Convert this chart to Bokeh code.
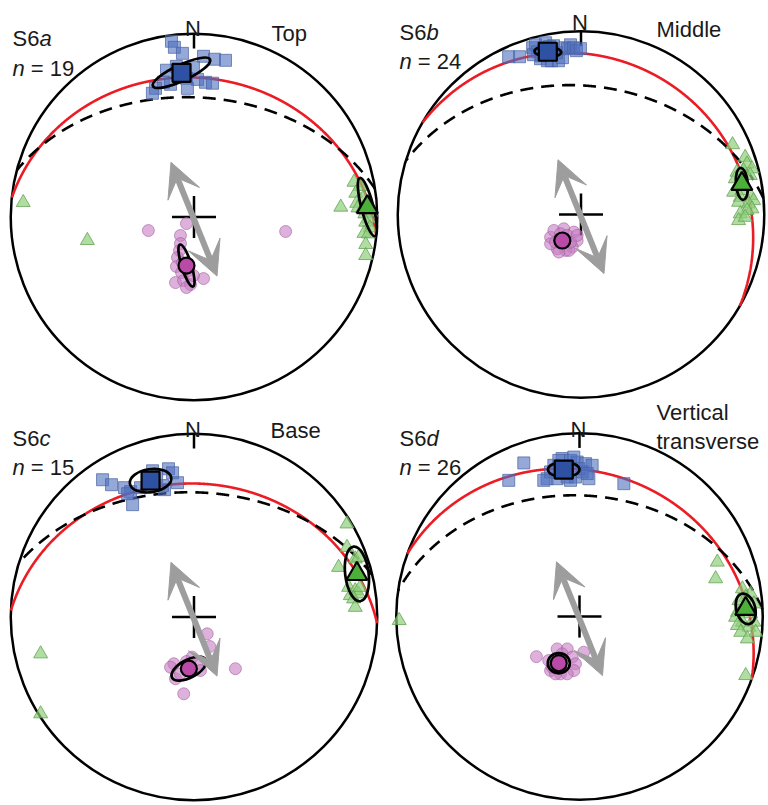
import numpy as np
from bokeh.plotting import figure
from bokeh.models import Range1d, Label, Arrow, VeeHead
from bokeh.embed import file_html
from bokeh.resources import INLINE

# ---------------------------------------------------------------------------
# Equal-area (lower hemisphere) nets, coordinates in units of the net radius
# (east, north).  Four samples: S6a..S6d.
# ---------------------------------------------------------------------------

PANEL_LETTER = ["a", "b", "c", "d"]
PANEL_N = [19, 24, 15, 26]
PANEL_POSITION = [["Top"], ["Middle"], ["Base"], ["Vertical", "transverse"]]

# k1 axes (squares)
A_SQ_E = [-0.123, -0.107, -0.063, 0.052, 0.112, 0.172, -0.150, -0.096, -0.003, -0.041,
          0.019, 0.063, 0.101, -0.036, -0.167, -0.210, -0.227, -0.128]
A_SQ_N = [0.959, 0.926, 0.893, 0.877, 0.861, 0.855, 0.801, 0.822, 0.817, 0.757,
          0.751, 0.735, 0.730, 0.702, 0.735, 0.702, 0.675, 0.724]
B_SQ_E = [-0.395, -0.335, -0.264, -0.248, -0.237, -0.221, -0.193, -0.183, -0.161, -0.123,
          -0.101, -0.090, -0.074, -0.057, -0.041, -0.025, -0.003, -0.259, -0.204, -0.150,
          -0.134, -0.215, -0.172]
B_SQ_N = [0.861, 0.861, 0.910, 0.926, 0.888, 0.850, 0.937, 0.839, 0.839, 0.839,
          0.856, 0.910, 0.905, 0.926, 0.910, 0.894, 0.905, 0.872, 0.910, 0.921,
          0.883, 0.866, 0.916]
C_SQ_E = [-0.499, -0.450, -0.379, -0.346, -0.335, -0.226, -0.139, -0.117, -0.090, -0.172,
          -0.161, -0.292, -0.362, -0.204]
C_SQ_N = [0.749, 0.722, 0.706, 0.684, 0.613, 0.798, 0.809, 0.787, 0.733, 0.717,
          0.695, 0.706, 0.673, 0.766]
D_SQ_E = [-0.304, -0.386, -0.140, -0.095, -0.049, -0.013, 0.033, 0.069, -0.177, -0.122,
          -0.067, -0.022, 0.051, 0.242, -0.158, 0.015, -0.086, -0.031, -0.113, -0.004,
          -0.195, 0.042, -0.049]
D_SQ_N = [0.838, 0.743, 0.825, 0.862, 0.852, 0.843, 0.834, 0.825, 0.752, 0.752,
          0.761, 0.761, 0.752, 0.725, 0.789, 0.789, 0.789, 0.870, 0.852, 0.807,
          0.743, 0.780, 0.743]

# k2 axes (triangles)
A_TRI_E = [0.873, 0.906, 0.883, 0.925, 0.888, 0.895, 0.919, 0.964, 0.932, 0.955,
           0.937, 0.961, 0.928, 0.952, 0.937, 0.937, 0.801, -0.932, -0.582]
A_TRI_N = [0.190, 0.167, 0.130, 0.108, 0.075, 0.050, 0.045, 0.026, 0.017, -0.010,
           -0.028, -0.059, -0.089, -0.092, -0.150, -0.210, 0.054, 0.079, -0.128]
B_TRI_E = [0.827, 0.896, 0.906, 0.933, 0.851, 0.887, 0.842, 0.924, 0.833, 0.878,
           0.869, 0.924, 0.942, 0.860, 0.914, 0.933, 0.906, 0.869, 0.860, 0.896]
B_TRI_N = [0.381, 0.312, 0.276, 0.249, 0.231, 0.240, 0.195, 0.213, 0.122, 0.131,
           0.094, 0.104, 0.076, 0.067, 0.058, 0.031, 0.022, 0.004, -0.033, -0.015]
C_TRI_E = [0.835, 0.789, 0.835, 0.880, 0.898, 0.844, 0.880, 0.898, 0.907, 0.853,
           0.871, 0.880, -0.837, -0.837]
C_TRI_N = [0.508, 0.271, 0.380, 0.317, 0.326, 0.162, 0.144, 0.126, 0.162, 0.117,
           0.099, 0.053, -0.201, -0.528]
D_TRI_E = [0.752, 0.743, 0.889, 0.934, 0.907, 0.870, 0.952, 0.862, 0.934, 0.852,
           0.889, 0.952, 0.862, 0.925, 0.880, 0.962, 0.916, 0.907, -0.984]
D_TRI_N = [0.297, 0.206, 0.151, 0.124, 0.105, 0.087, 0.069, 0.023, 0.015, -0.004,
           -0.031, -0.031, -0.049, -0.058, -0.086, -0.086, -0.122, -0.322, -0.022]

# k3 axes (circles)
A_CIR_E = [-0.249, -0.041, -0.074, -0.074, -0.079, -0.090, -0.096, -0.063, -0.068, -0.030,
           -0.101, -0.057, -0.019, 0.052, -0.041, -0.003, 0.500]
A_CIR_N = [-0.074, -0.036, -0.101, -0.145, -0.183, -0.221, -0.270, -0.249, -0.303, -0.292,
           -0.358, -0.347, -0.369, -0.336, -0.385, -0.320, -0.079]
B_CIR_E = [-0.166, -0.148, -0.094, -0.039, -0.021, -0.048, -0.084, -0.130, -0.166, -0.066,
           -0.112, -0.075, -0.139, -0.057, -0.021, -0.121]
B_CIR_N = [-0.124, -0.087, -0.078, -0.096, -0.142, -0.178, -0.196, -0.187, -0.160, -0.196,
           -0.105, -0.114, -0.151, -0.151, -0.114, -0.205]
C_CIR_E = [0.072, 0.086, -0.010, -0.110, -0.128, -0.101, -0.056, 0.226, 0.017, -0.074,
           0.035, -0.041]
C_CIR_N = [-0.092, -0.161, -0.219, -0.255, -0.274, -0.337, -0.419, -0.282, -0.255, -0.310,
           -0.292, -0.243]
D_CIR_E = [-0.235, 0.023, -0.122, -0.067, -0.095, -0.168, -0.040, -0.022, -0.158, -0.031,
           -0.104, -0.067, -0.131, -0.149]
D_CIR_N = [-0.219, -0.195, -0.177, -0.177, -0.204, -0.240, -0.222, -0.258, -0.295, -0.295,
           -0.313, -0.313, -0.313, -0.277]

# mean axes and confidence ellipses (semi-axes, angle in degrees), per panel a..d
SQ_MEAN_E = [-0.068, -0.181, -0.237, -0.086]
SQ_MEAN_N = [0.787, 0.888, 0.744, 0.802]
SQ_ELL_A = [0.172, 0.073, 0.114, 0.086]
SQ_ELL_B = [0.044, 0.027, 0.063, 0.041]
SQ_ELL_ANG = [25, -3, 8, 0]

TRI_MEAN_E = [0.946, 0.878, 0.889, 0.907]
TRI_MEAN_N = [0.054, 0.167, 0.235, 0.042]
TRI_ELL_A = [0.164, 0.087, 0.150, 0.085]
TRI_ELL_B = [0.033, 0.033, 0.064, 0.052]
TRI_ELL_ANG = [-75.5, 95, 97, 105]

CIR_MEAN_E = [-0.041, -0.102, -0.028, -0.113]
CIR_MEAN_N = [-0.265, -0.142, -0.282, -0.255]
CIR_ELL_A = [0.120, 0.040, 0.104, 0.060]
CIR_ELL_B = [0.027, 0.036, 0.049, 0.055]
CIR_ELL_ANG = [-72.8, 0, 28, 0]

# fabric plane (red great circle): dip direction / dip
PLANE_DIPDIR = [6, 30, 2, 20]
PLANE_DIP = [25, 15, 28, 22]

# dashed cone: axis trend / plunge and half-apical angle
CONE_TREND = [183, 186, 182, 183]
CONE_PLUNGE = [47, 53, 47.3, 52.6]
CONE_ANGLE = [98, 96.6, 100.2, 93.1]

# flow direction (double arrow)
FLOW_TREND = [338, 338, 338, 338]
FLOW_HALF_LEN = [0.335, 0.335, 0.335, 0.335]

# ---------------------------------------------------------------------------
# page layout
W, H = 768, 805
R = 183.25                                    # net radius in px
CENTER_PX = [(193.5, 216.5), (580.5, 214.0), (193.5, 616.5), (579.0, 616.0)]
TEXT_LEFT = [12, 399, 12, 399]
TEXT_TOP = [38, 31.5, 437.5, 437.5]           # baseline of "S6x"
POS_LEFT = [271, 656, 270, 656]
POS_BASE = [33, 28.5, 429.5, 411.5]
N_BASE = [28, 22, 428.5, 428.5]
FONT = "Liberation Sans"
FS = 22

SQ = [(A_SQ_E, A_SQ_N), (B_SQ_E, B_SQ_N), (C_SQ_E, C_SQ_N), (D_SQ_E, D_SQ_N)]
TRI = [(A_TRI_E, A_TRI_N), (B_TRI_E, B_TRI_N), (C_TRI_E, C_TRI_N), (D_TRI_E, D_TRI_N)]
CIR = [(A_CIR_E, A_CIR_N), (B_CIR_E, B_CIR_N), (C_CIR_E, C_CIR_N), (D_CIR_E, D_CIR_N)]


def to_data(px, py):
    return px / R, (H - py) / R


def cone_lines(trend, plunge, half_angle, n=2881):
    """Lower-hemisphere equal-area trace of a cone around an axis."""
    t, p, h = np.radians([trend, plunge, half_angle])
    a = np.array([np.cos(p) * np.sin(t), np.cos(p) * np.cos(t), np.sin(p)])
    ref = np.array([0.0, 0.0, 1.0]) if abs(a[2]) < 0.9 else np.array([1.0, 0.0, 0.0])
    u = np.cross(a, ref)
    u /= np.linalg.norm(u)
    v = np.cross(a, u)
    phi = np.linspace(0, 2 * np.pi, n, endpoint=False)
    pts = np.cos(h) * a[:, None] + np.sin(h) * (np.outer(u, np.cos(phi)) + np.outer(v, np.sin(phi)))
    e, nn, d = pts
    keep = d >= 0
    if not keep.all():
        k = int(np.argmin(keep))
        e, nn, d, keep = (np.roll(arr, -k) for arr in (e, nn, d, keep))
    f = 1.0 / np.sqrt(1.0 + np.clip(d, 0, None))
    x, y = e * f, nn * f
    xs, ys, cur = [], [], []
    for i in range(len(keep)):
        if keep[i]:
            cur.append(i)
        else:
            if len(cur) > 1:
                xs.append(x[cur]); ys.append(y[cur])
            cur = []
    if len(cur) > 1:
        xs.append(x[cur]); ys.append(y[cur])
    return xs, ys


p = figure(width=W, height=H, output_backend="svg", toolbar_location=None,
           x_range=Range1d(0, W / R), y_range=Range1d(0, H / R), min_border=0)
p.axis.visible = False
p.grid.visible = False
p.outline_line_color = None
p.background_fill_color = "white"

GRAY = "#9d9d9d"

for i in range(4):
    cx, cy = to_data(*CENTER_PX[i])

    # primitive circle
    p.ellipse(x=[cx], y=[cy], width=2, height=2, fill_color=None,
              line_color="black", line_width=2.5)

    # fabric plane (great circle = cone of 90 deg about the pole)
    xs, ys = cone_lines(PLANE_DIPDIR[i] + 180, 90 - PLANE_DIP[i], 90)
    p.multi_line([list(x + cx) for x in xs], [list(y + cy) for y in ys],
                 line_color="#ec1c24", line_width=2.6)

    # dashed cone
    xs, ys = cone_lines(CONE_TREND[i], CONE_PLUNGE[i], CONE_ANGLE[i])
    p.multi_line([list(x + cx) for x in xs], [list(y + cy) for y in ys],
                 line_color="black", line_width=2.6, line_dash="13 8")

    # north tick and centre cross
    p.segment(x0=[cx], y0=[cy + 1.0], x1=[cx], y1=[cy + 0.92], line_color="black", line_width=2.5)
    p.segment(x0=[cx - 0.12, cx], y0=[cy, cy - 0.115], x1=[cx + 0.12, cx], y1=[cy, cy + 0.115],
              line_color="black", line_width=2.5)

    # flow arrow
    t = np.radians(FLOW_TREND[i])
    L = FLOW_HALF_LEN[i]
    dx, dy = L * np.sin(t), L * np.cos(t)
    oy = -0.012
    p.add_layout(Arrow(x_start=cx - dx, y_start=cy - dy + oy, x_end=cx + dx, y_end=cy + dy + oy,
                       line_color=GRAY, line_width=6,
                       start=VeeHead(size=34, fill_color=GRAY, line_color=GRAY, line_width=1),
                       end=VeeHead(size=34, fill_color=GRAY, line_color=GRAY, line_width=1)))

    # individual axes
    se, sn = SQ[i]
    p.scatter(np.array(se) + cx, np.array(sn) + cy, marker="square", size=12,
              fill_color="#4f6fc0", fill_alpha=0.6, line_color="#4a62a0", line_alpha=0.7)
    te, tn = TRI[i]
    p.scatter(np.array(te) + cx, np.array(tn) + cy, marker="triangle", size=14,
              fill_color="#8fd07a", fill_alpha=0.7, line_color="#66a356", line_alpha=0.8)
    ce, cn = CIR[i]
    p.scatter(np.array(ce) + cx, np.array(cn) + cy, marker="circle", size=12,
              fill_color="#c77dc3", fill_alpha=0.6, line_color="#a25f9f", line_alpha=0.6)

    # confidence ellipses
    p.ellipse(x=[SQ_MEAN_E[i] + cx, TRI_MEAN_E[i] + cx, CIR_MEAN_E[i] + cx],
              y=[SQ_MEAN_N[i] + cy, TRI_MEAN_N[i] + cy, CIR_MEAN_N[i] + cy],
              width=[2 * SQ_ELL_A[i], 2 * TRI_ELL_A[i], 2 * CIR_ELL_A[i]],
              height=[2 * SQ_ELL_B[i], 2 * TRI_ELL_B[i], 2 * CIR_ELL_B[i]],
              angle=[SQ_ELL_ANG[i], TRI_ELL_ANG[i], CIR_ELL_ANG[i]], angle_units="deg",
              fill_color=None, line_color="black", line_width=2.7)

    # mean axes
    p.scatter([SQ_MEAN_E[i] + cx], [SQ_MEAN_N[i] + cy], marker="square", size=18,
              fill_color="#2f51a3", line_color="black", line_width=2.2)
    p.scatter([TRI_MEAN_E[i] + cx], [TRI_MEAN_N[i] + cy], marker="triangle", size=21,
              fill_color="#4caf3a", line_color="black", line_width=2.2)
    p.scatter([CIR_MEAN_E[i] + cx], [CIR_MEAN_N[i] + cy], marker="circle", size=16,
              fill_color="#b94aa8", line_color="black", line_width=2.2)

    # texts
    def lab(px, py, text, style="normal", align="left"):
        x, y = to_data(px, py)
        p.add_layout(Label(x=x, y=y, text=text, text_font=FONT, text_font_size=f"{FS}px",
                           text_font_style=style, text_align=align,
                           text_baseline="alphabetic", text_color="#1a1a1a"))

    left, base = TEXT_LEFT[i], TEXT_TOP[i]
    lab(left, base, "S6")
    lab(left + 1.223 * FS, base, PANEL_LETTER[i], style="italic")
    lab(left, base + 29.5, "n", style="italic")
    lab(left + 0.834 * FS, base + 29.5, f"= {PANEL_N[i]}")
    lab(CENTER_PX[i][0] - 1, N_BASE[i], "N", align="center")
    for k, line in enumerate(PANEL_POSITION[i]):
        lab(POS_LEFT[i], POS_BASE[i] + 29 * k, line)

open("out.html", "w").write(file_html(p, INLINE))
